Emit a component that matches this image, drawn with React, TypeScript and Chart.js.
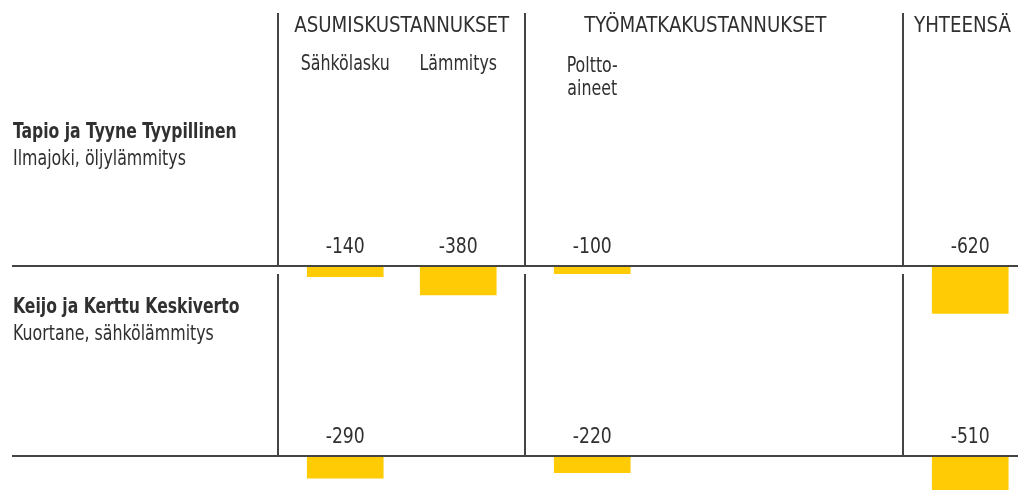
import React, { useEffect, useRef } from 'react';
import { Chart, registerables } from 'chart.js';

Chart.register(...registerables);

// ---- data ----
const GROUP_TITLES = ['ASUMISKUSTANNUKSET', 'TYÖMATKAKUSTANNUKSET', 'YHTEENSÄ'];
const COLUMN_LABELS = ['Sähkölasku', 'Lämmitys', 'Poltto-\naineet', ''];
const COLUMN_GROUP = [0, 0, 1, 2];
const COLUMN_SLOT = [0, 1, 0, 0];
const HOUSEHOLDS = ['Tapio ja Tyyne Tyypillinen', 'Keijo ja Kerttu Keskiverto'];
const LOCATIONS = ['Ilmajoki, öljylämmitys', 'Kuortane, sähkölämmitys'];
const TYYPILLINEN = [-140, -380, -100, -620];
const KESKIVERTO: (number | null)[] = [-290, null, -220, -510];

// ---- layout ----
const W = 1018;
const H = 490;
const FONT = "'DejaVu Sans Condensed', 'DejaVu Sans', sans-serif";
const TEXT_COLOR = '#303030';
const LINE_COLOR = '#444444';
const BAR_COLOR = '#FFCB05';
const COL_UNIT_PX = 113;
const FIRST_SEP_PX = 278;
const GROUP_WIDTH_UNITS = [2.186, 3.345];
const GROUP_SLOTS = [2, 3, 1];
const SLOT_OFFSET = 0.595;
const PX_PER_EUR = 0.0763;
const ROW_BASELINE_PX = [266, 456];
const ROW_NAME_Y = [138, 313];
const ROW_SUB_Y = [165, 340];
const RIGHT_MARGIN = 7;
// horizontal condensing so the wide installed font matches the narrow original
const SX_HEADER = 0.92;
const SX_TEXT = 0.8;
const SX_BOLD = 0.79;
const SX_VALUE = 0.87;

function drawText(
  ctx: CanvasRenderingContext2D,
  text: string,
  x: number,
  y: number,
  sx: number,
  align: CanvasTextAlign,
) {
  ctx.save();
  ctx.translate(x, y);
  ctx.scale(sx, 1);
  ctx.textAlign = align;
  ctx.fillText(text, 0, 0);
  ctx.restore();
}

export default function App() {
  const ref = useRef<HTMLCanvasElement>(null);

  useEffect(() => {
    document.body.style.margin = '0';
    const canvas = ref.current;
    if (!canvas) return;

    const sepUnits: number[] = [0];
    GROUP_WIDTH_UNITS.forEach((w, i) => sepUnits.push(sepUnits[i] + w));
    const colX = COLUMN_GROUP.map((g, i) => sepUnits[g] + SLOT_OFFSET + COLUMN_SLOT[i]);
    const groupCenter = GROUP_SLOTS.map((n, g) => sepUnits[g] + SLOT_OFFSET + (n - 1) / 2);

    const yAxis = (base: number) => ({
      type: 'linear' as const,
      display: false,
      min: -(H - base) / PX_PER_EUR,
      max: base / PX_PER_EUR,
    });

    const rows = [TYYPILLINEN, KESKIVERTO];

    const tablePlugin = {
      id: 'tablePlugin',
      afterDatasetsDraw(chart: any) {
        const ctx: CanvasRenderingContext2D = chart.ctx;
        const xs = chart.scales.x;
        const baseY = [chart.scales.y0.getPixelForValue(0), chart.scales.y1.getPixelForValue(0)];
        ctx.save();
        // lines
        ctx.strokeStyle = LINE_COLOR;
        ctx.lineWidth = 2;
        baseY.forEach((py) => {
          ctx.beginPath();
          ctx.moveTo(12, py);
          ctx.lineTo(W, py);
          ctx.stroke();
        });
        sepUnits.forEach((u) => {
          const px = Math.round(xs.getPixelForValue(u));
          ctx.beginPath();
          ctx.moveTo(px, 13);
          ctx.lineTo(px, baseY[0]);
          ctx.moveTo(px, baseY[0] + 8);
          ctx.lineTo(px, baseY[1]);
          ctx.stroke();
        });
        ctx.fillStyle = TEXT_COLOR;
        ctx.textBaseline = 'alphabetic';
        ctx.font = `22px ${FONT}`;
        GROUP_TITLES.forEach((t, g) => {
          const half = (ctx.measureText(t).width * SX_HEADER) / 2;
          const cx = Math.min(xs.getPixelForValue(groupCenter[g]), W - RIGHT_MARGIN - half);
          drawText(ctx, t, cx, 32, SX_HEADER, 'center');
        });
        COLUMN_LABELS.forEach((t, i) => {
          const lines = t.split('\n');
          lines.forEach((ln, k) => {
            drawText(ctx, ln, xs.getPixelForValue(colX[i]), 70 + (lines.length > 1 ? 2 : 0) + k * 23, SX_TEXT, 'center');
          });
        });
        rows.forEach((vals, r) => {
          vals.forEach((v, i) => {
            if (v === null) return;
            drawText(ctx, String(v), xs.getPixelForValue(colX[i]), baseY[r] - 13, SX_VALUE, 'center');
          });
        });
        HOUSEHOLDS.forEach((h, r) => {
          ctx.font = `bold 22px ${FONT}`;
          drawText(ctx, h, 13, ROW_NAME_Y[r], SX_BOLD, 'left');
          ctx.font = `22px ${FONT}`;
          drawText(ctx, LOCATIONS[r], 13, ROW_SUB_Y[r], SX_TEXT, 'left');
        });
        ctx.restore();
      },
    };

    const chart = new Chart(canvas, {
      type: 'bar',
      data: {
        datasets: rows.map((vals, r) => ({
          label: HOUSEHOLDS[r],
          data: vals.map((v, i) => ({ x: colX[i], y: v })),
          yAxisID: r === 0 ? 'y0' : 'y1',
          backgroundColor: BAR_COLOR,
          barThickness: 76,
          grouped: false,
          borderWidth: 0,
        })) as any,
      },
      options: {
        animation: false,
        responsive: false,
        maintainAspectRatio: false,
        layout: { padding: 0 },
        plugins: { legend: { display: false }, tooltip: { enabled: false } },
        scales: {
          x: {
            type: 'linear',
            display: false,
            offset: false,
            min: -FIRST_SEP_PX / COL_UNIT_PX,
            max: (W - FIRST_SEP_PX) / COL_UNIT_PX,
          },
          y0: yAxis(ROW_BASELINE_PX[0]),
          y1: yAxis(ROW_BASELINE_PX[1]),
        },
      } as any,
      plugins: [tablePlugin],
    });
    return () => chart.destroy();
  }, []);

  return (
    <div style={{ width: W, height: H, background: '#fff' }}>
      <canvas ref={ref} width={W} height={H} style={{ display: 'block', width: W, height: H }} />
    </div>
  );
}
